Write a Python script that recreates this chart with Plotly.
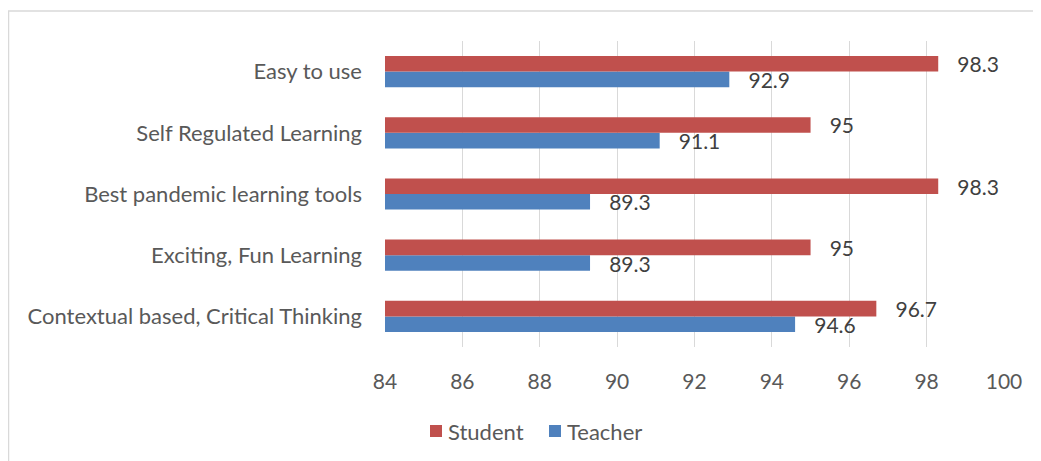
import plotly.graph_objects as go

categories = ["Contextual based, Critical Thinking", "Exciting, Fun Learning",
              "Best pandemic learning tools", "Self Regulated Learning", "Easy to use"]
student = [96.7, 95, 98.3, 95, 98.3]
teacher = [94.6, 89.3, 89.3, 91.1, 92.9]
x_ticks = [84, 86, 88, 90, 92, 94, 96, 98, 100]
series_names = ["Student", "Teacher"]
series_colors = ["#C0504D", "#4F81BD"]

FONT = "Lato"
OFF = 8  # page body margin
W, H = 1041 - OFF, 461 - OFF
L, T = 385 - OFF, 41 - OFF
R, B = W - (1004 - OFF), H - (347 - OFF)
PW, PH = W - L - R, H - T - B


def px_x(p):
    return (p - OFF - L) / PW


def px_y(p):
    return 1 - (p - OFF - T) / PH


label_tmpl = "\u00a0\u00a0\u00a0%{x}"

fig = go.Figure()
fig.add_trace(go.Bar(y=categories, x=teacher, orientation="h", name=series_names[1],
                     marker=dict(color=series_colors[1], line=dict(width=0)),
                     texttemplate=label_tmpl, textposition="outside",
                     cliponaxis=False, constraintext="none",
                     textfont=dict(family=FONT, size=21, color="#404040")))
fig.add_trace(go.Bar(y=categories, x=student, orientation="h", name=series_names[0],
                     marker=dict(color=series_colors[0], line=dict(width=0)),
                     texttemplate=label_tmpl, textposition="outside",
                     cliponaxis=False, constraintext="none",
                     textfont=dict(family=FONT, size=21, color="#404040")))

shapes = [dict(type="rect", xref="paper", yref="paper",
               x0=px_x(8.5), x1=px_x(1060), y0=px_y(480), y1=px_y(11),
               line=dict(color="#D9D9D9", width=1.5), fillcolor="rgba(0,0,0,0)",
               layer="below")]
annotations = []
legend_sq_x = [430, 549]
legend_txt_x = [446, 565]
for i, name in enumerate(series_names):
    shapes.append(dict(type="rect", xref="paper", yref="paper",
                       x0=px_x(legend_sq_x[i]), x1=px_x(legend_sq_x[i] + 12),
                       y0=px_y(437), y1=px_y(425),
                       line=dict(width=0), fillcolor=series_colors[i]))
    annotations.append(dict(xref="paper", yref="paper", x=px_x(legend_txt_x[i]),
                            y=px_y(431), xanchor="left", yanchor="middle",
                            text=name, showarrow=False,
                            font=dict(family=FONT, size=22, color="#595959")))

fig.update_layout(
    width=W, height=H,
    margin=dict(l=L, r=R, t=T, b=B),
    paper_bgcolor="white", plot_bgcolor="white",
    barmode="group", bargap=0.49, bargroupgap=0,
    font=dict(family=FONT, size=20, color="#595959"),
    showlegend=False,
    xaxis=dict(range=[84, 100], tickvals=x_ticks, showgrid=True, gridcolor="#D9D9D9",
               gridwidth=1.3, zeroline=False, showline=False, ticks="",
               automargin=False,
               ticklabelstandoff=20, tickfont=dict(size=21, color="#595959")),
    yaxis=dict(showgrid=False, showline=False, ticks="", ticklabelstandoff=22,
               automargin=False,
               tickfont=dict(size=22, color="#595959")),
    shapes=shapes,
    annotations=annotations,
)
fig.write_html("out.html")
